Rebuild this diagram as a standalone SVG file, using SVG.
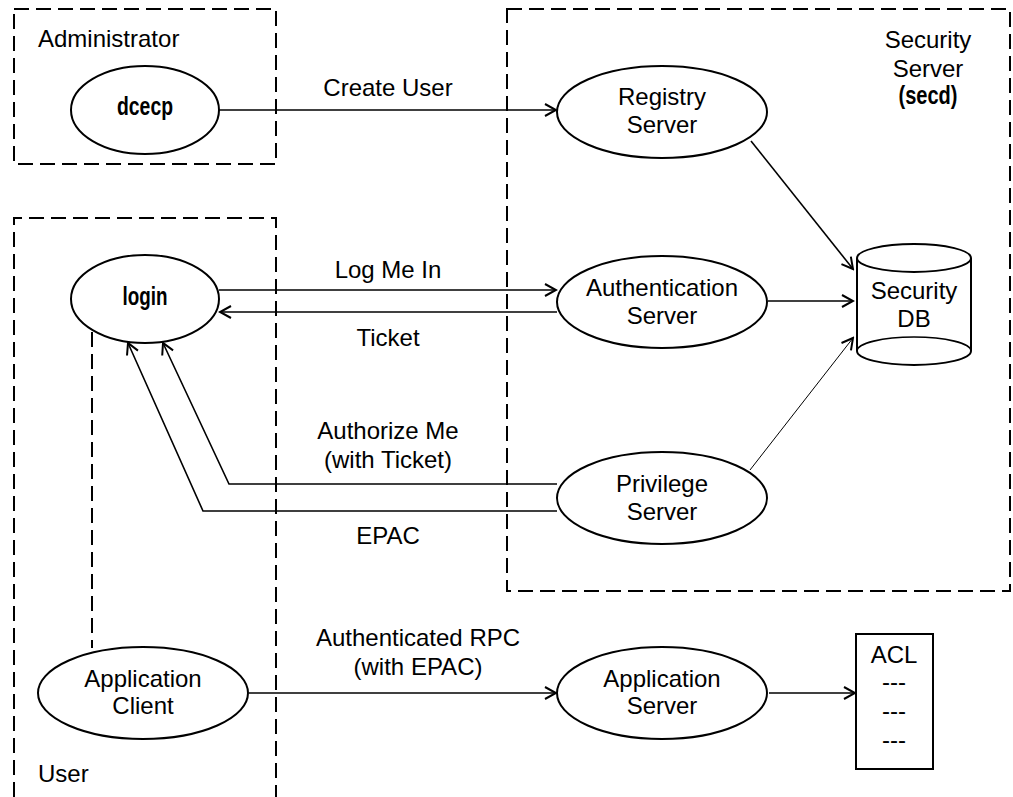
<svg xmlns="http://www.w3.org/2000/svg" width="1013" height="797" viewBox="0 0 1013 797">
<defs>
<marker id="arr" markerWidth="14" markerHeight="14" refX="12" refY="7" orient="auto" markerUnits="userSpaceOnUse">
<path d="M1,1 L12,7 L1,13" fill="none" stroke="#000" stroke-width="2"/>
</marker>
<style>
.box{fill:none;stroke:#000;stroke-width:2;stroke-dasharray:15 7}
.node{fill:#fff;stroke:#000;stroke-width:2}
.ln{fill:none;stroke:#000;stroke-width:1.6}
.thin{fill:none;stroke:#000;stroke-width:1}
text{font-family:"Liberation Sans",Arial,Helvetica,sans-serif;font-size:24px;fill:#000}
.c{text-anchor:middle}
.b{font-weight:bold;font-size:26px}
</style>
</defs>
<rect width="1013" height="797" fill="#fff"/>
<g id="boxes">
<rect id="admin-box" class="box" x="14" y="9" width="262" height="155"/>
<rect id="security-box" class="box" x="507" y="9" width="503" height="582"/>
<path id="user-box" class="box" d="M14,797 L14,218 L276,218 L276,797"/>
<line class="box" x1="92" y1="332" x2="92" y2="648"/>
<text x="38" y="47">Administrator</text>
<text x="38" y="782">User</text>
<text class="c" x="928" y="48">Security</text>
<text class="c" x="928" y="77">Server</text>
<text class="c b" x="928" y="104" textLength="59" lengthAdjust="spacingAndGlyphs">(secd)</text>
</g>
<g id="connectors">
<line class="ln" x1="219" y1="110" x2="556" y2="110" marker-end="url(#arr)"/>
<text class="c" x="388" y="96">Create User</text>
<line class="ln" x1="751" y1="141" x2="853" y2="269" marker-end="url(#arr)"/>
<line class="ln" x1="219" y1="290" x2="556" y2="290" marker-end="url(#arr)"/>
<text class="c" x="388" y="278">Log Me In</text>
<line class="ln" x1="557" y1="312" x2="220" y2="312" marker-end="url(#arr)"/>
<text class="c" x="388" y="346">Ticket</text>
<line class="ln" x1="768" y1="301" x2="853" y2="301" marker-end="url(#arr)"/>
<line class="thin" x1="750" y1="470" x2="853" y2="338" marker-end="url(#arr)"/>
<polyline class="ln" points="557,484 229,484 163,343" marker-end="url(#arr)"/>
<text class="c" x="388" y="439">Authorize Me</text>
<text class="c" x="388" y="468">(with Ticket)</text>
<polyline class="ln" points="557,511 203,511 128,343" marker-end="url(#arr)"/>
<text class="c" x="388" y="544">EPAC</text>
<line class="ln" x1="249" y1="693" x2="556" y2="693" marker-end="url(#arr)"/>
<text class="c" x="418" y="646">Authenticated RPC</text>
<text class="c" x="418" y="675">(with EPAC)</text>
<line class="ln" x1="769" y1="693" x2="855" y2="693" marker-end="url(#arr)"/>
</g>
<g id="dcecp">
<ellipse class="node" cx="145" cy="110" rx="74" ry="44"/>
<text class="c b" x="145" y="115" textLength="56" lengthAdjust="spacingAndGlyphs">dcecp</text>
</g>
<g id="login">
<ellipse class="node" cx="145" cy="299" rx="74" ry="44"/>
<text class="c b" x="145" y="305" textLength="45" lengthAdjust="spacingAndGlyphs">login</text>
</g>
<g id="registry">
<ellipse class="node" cx="662" cy="112" rx="105" ry="46"/>
<text class="c" x="662" y="105">Registry</text>
<text class="c" x="662" y="133">Server</text>
</g>
<g id="auth">
<ellipse class="node" cx="662" cy="302" rx="105" ry="46"/>
<text class="c" x="662" y="296">Authentication</text>
<text class="c" x="662" y="324">Server</text>
</g>
<g id="privilege">
<ellipse class="node" cx="662" cy="498" rx="105" ry="46"/>
<text class="c" x="662" y="492">Privilege</text>
<text class="c" x="662" y="520">Server</text>
</g>
<g id="securitydb">
<path class="node" d="M857,258 L857,351 A57,14 0 0 0 971,351 L971,258"/>
<ellipse class="node" cx="914" cy="258" rx="57" ry="14"/>
<path class="ln" d="M857,351 A57,14 0 0 1 971,351"/>
<text class="c" x="914" y="299">Security</text>
<text class="c" x="914" y="327">DB</text>
</g>
<g id="appclient">
<ellipse class="node" cx="143" cy="693" rx="105" ry="46"/>
<text class="c" x="143" y="687">Application</text>
<text class="c" x="143" y="714">Client</text>
</g>
<g id="appserver">
<ellipse class="node" cx="662" cy="693" rx="105" ry="46"/>
<text class="c" x="662" y="687">Application</text>
<text class="c" x="662" y="714">Server</text>
</g>
<g id="acl">
<rect class="node" x="856" y="634" width="77" height="135"/>
<text class="c" x="894" y="663">ACL</text>
<text class="c" x="894" y="690">---</text>
<text class="c" x="894" y="719">---</text>
<text class="c" x="894" y="748">---</text>
</g>
</svg>
